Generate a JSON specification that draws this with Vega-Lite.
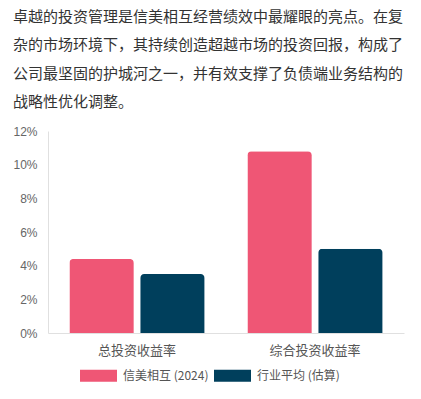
{
  "$schema": "https://vega.github.io/schema/vega-lite/v6.json",
  "width": 356,
  "height": 202,
  "padding": {"left": 12, "top": 9, "right": 18, "bottom": 10},
  "background": "white",
  "title": {
    "text": ["卓越的投资管理是信美相互经营绩效中最耀眼的亮点。在复", "杂的市场环境下，其持续创造超越市场的投资回报，构成了", "公司最坚固的护城河之一，并有效支撑了负债端业务结构的", "战略性优化调整。"],
    "anchor": "start",
    "frame": "bounds",
    "font": "Noto Sans CJK SC",
    "fontSize": 15,
    "fontWeight": "normal",
    "color": "#333333",
    "lineHeight": 28.5,
    "offset": 15,
    "dx": 0
  },
  "data": {
    "values": [
      {"metric": "总投资收益率", "series": "信美相互 (2024)", "value": 0.044},
      {"metric": "总投资收益率", "series": "行业平均 (估算)", "value": 0.035},
      {"metric": "综合投资收益率", "series": "信美相互 (2024)", "value": 0.108},
      {"metric": "综合投资收益率", "series": "行业平均 (估算)", "value": 0.050}
    ]
  },
  "mark": {"type": "bar", "cornerRadiusTopLeft": 4, "cornerRadiusTopRight": 4},
  "encoding": {
    "x": {
      "field": "metric",
      "type": "nominal",
      "sort": ["总投资收益率", "综合投资收益率"],
      "scale": {"paddingInner": 0.24, "paddingOuter": 0.12},
      "axis": {
        "title": null,
        "labelAngle": 0,
        "labelFont": "Noto Sans CJK SC",
        "labelFontSize": 13,
        "labelColor": "#555555",
        "labelPadding": 11,
        "ticks": false,
        "domainColor": "#e0e0e0"
      }
    },
    "xOffset": {
      "field": "series",
      "type": "nominal",
      "sort": ["信美相互 (2024)", "行业平均 (估算)"],
      "scale": {"paddingInner": 0.09}
    },
    "y": {
      "field": "value",
      "type": "quantitative",
      "scale": {"domain": [0, 0.12]},
      "axis": {
        "title": null,
        "format": ".0%",
        "values": [0, 0.02, 0.04, 0.06, 0.08, 0.1, 0.12],
        "grid": false,
        "ticks": false,
        "labelFont": "Liberation Sans",
        "labelFontSize": 12,
        "labelColor": "#666666",
        "labelPadding": 11,
        "domainColor": "#e0e0e0"
      }
    },
    "color": {
      "field": "series",
      "type": "nominal",
      "sort": ["信美相互 (2024)", "行业平均 (估算)"],
      "scale": {"range": ["#ef5675", "#003f5c"]},
      "legend": {
        "title": null,
        "orient": "none",
        "direction": "horizontal",
        "legendX": 32,
        "legendY": 226,
        "symbolType": "M-1,-0.32H1V0.32H-1Z",
        "symbolSize": 1369,
        "symbolStrokeWidth": 0,
        "labelFont": "Noto Sans CJK SC",
        "labelFontSize": 12,
        "labelColor": "#555555",
        "columnPadding": 5,
        "labelOffset": 6
      }
    }
  },
  "config": {"view": {"stroke": null}}
}
